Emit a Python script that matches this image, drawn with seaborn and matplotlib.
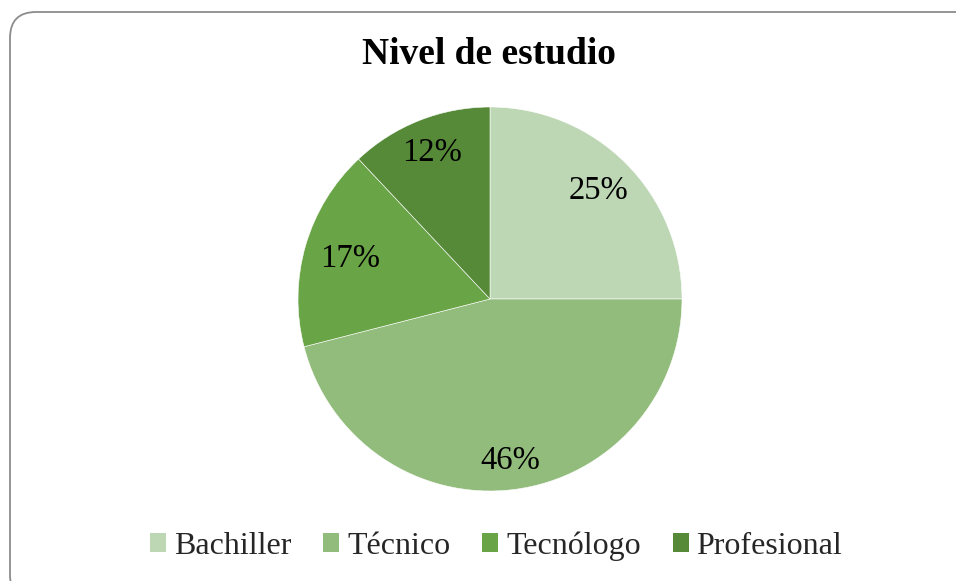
import matplotlib
matplotlib.use("Agg")
import matplotlib.pyplot as plt
import seaborn as sns
import numpy as np
from matplotlib.patches import FancyBboxPatch, Patch

categories = ["Bachiller", "Técnico", "Tecnólogo", "Profesional"]
values = [25, 46, 17, 12]
colors = ["#BDD6B4", "#92BC7C", "#69A446", "#568A39"]
label_dist = [0.80, 0.85, 0.76, 0.82]

sns.set_theme(style="white")
plt.rcParams["font.family"] = ["Liberation Serif", "DejaVu Serif"]

W, H = 956, 581
fig = plt.figure(figsize=(W / 100, H / 100), dpi=100)
fig.patch.set_facecolor("white")

# rounded border in pixel coordinates (origin bottom-left)
border = FancyBboxPatch((10, -20), 980, H - 12 + 20,
                        boxstyle="round,pad=0,rounding_size=26",
                        transform=None, facecolor="none",
                        edgecolor="#8C8C8C", linewidth=1.3)
fig.patches.append(border)

# pie axes: center (490, 299), radius 192
r = 192
ax = fig.add_axes([(490 - r) / W, 1 - (299 + r) / H, 2 * r / W, 2 * r / H])
wedges, _ = ax.pie(values, colors=colors, startangle=90, counterclock=False,
                   wedgeprops=dict(edgecolor="white", linewidth=0.4))
ax.set_aspect("equal")
ax.set_xlim(-1, 1)
ax.set_ylim(-1, 1)
ax.axis("off")

total = sum(values)
start = 90.0
for v, d in zip(values, label_dist):
    span = 360.0 * v / total
    mid = np.deg2rad(start - span / 2)
    ax.text(d * np.cos(mid), d * np.sin(mid), f"{round(100 * v / total)}%",
            ha="center", va="center", fontsize=23.5, color="black")
    start -= span

fig.text(489 / W, 1 - 55 / H, "Nivel de estudio", ha="center", va="center",
         fontsize=27, fontweight="bold", color="black")

handles = [Patch(facecolor=c, edgecolor="none") for c in colors]
fig.legend(handles, categories, loc="center", bbox_to_anchor=(496 / W, 1 - 546 / H),
           ncol=4, frameon=False, fontsize=23, handlelength=0.5, handleheight=0.5,
           handletextpad=0.25, columnspacing=1.0)

fig.savefig("out.png", dpi=100, facecolor="white")
